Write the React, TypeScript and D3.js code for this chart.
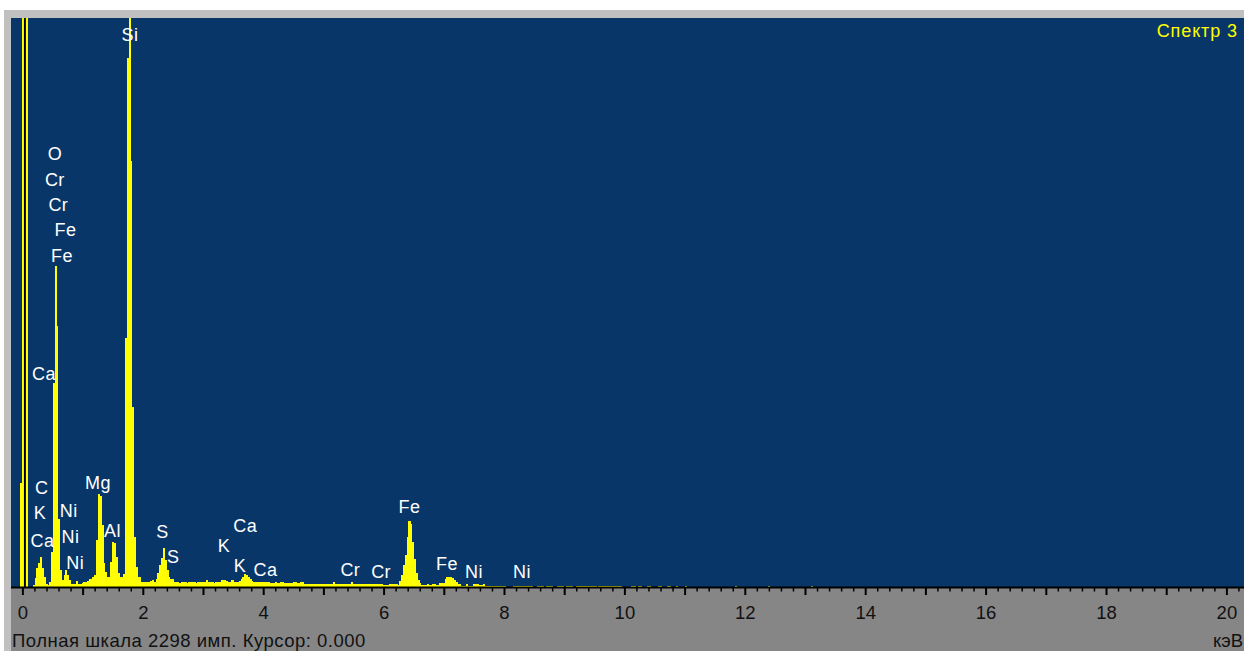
import React, { useRef, useEffect } from 'react';
import * as d3 from 'd3';

// spectrum channels: 0.03 keV wide, first channel starts at -0.045 keV
const CHANNEL_KEV = 0.03;
const FIRST_CHANNEL_KEV = -0.045;
const FULL_SCALE = 2298;
const CURSOR_KEV = 0;
const SPECTRUM_NAME = 'Спектр 3';

const counts: number[] = [
    420, 2700, 0, 2700, 0, 0, 0, 8, 36, 77,
    97, 121, 77, 40, 12, 8, 20, 141, 824, 1297,
    1054, 275, 69, 28, 48, 69, 48, 28, 12, 12,
    12, 24, 12, 12, 16, 20, 20, 24, 32, 32,
    40, 48, 190, 376, 368, 250, 97, 61, 40, 40,
    101, 182, 178, 121, 57, 40, 40, 53, 1006, 2137,
    2700, 1721, 727, 202, 81, 40, 40, 20, 20, 20,
    20, 20, 24, 28, 20, 32, 57, 89, 117, 158,
    109, 69, 40, 32, 32, 20, 20, 20, 16, 20,
    20, 20, 16, 20, 20, 20, 20, 16, 20, 20,
    20, 20, 20, 28, 20, 20, 20, 16, 20, 20,
    20, 28, 28, 28, 24, 20, 20, 28, 20, 20,
    20, 24, 32, 40, 53, 48, 40, 32, 24, 20,
    20, 20, 20, 20, 20, 20, 20, 20, 16, 16,
    16, 20, 16, 16, 20, 20, 16, 16, 16, 16,
    16, 20, 20, 16, 16, 20, 20, 12, 12, 12,
    12, 12, 12, 12, 12, 12, 12, 12, 12, 12,
    12, 12, 12, 20, 12, 12, 12, 12, 12, 12,
    12, 12, 12, 20, 12, 12, 12, 12, 12, 12,
    12, 12, 12, 12, 12, 12, 12, 12, 12, 12,
    12, 8, 8, 8, 12, 12, 12, 12, 12, 8,
    24, 48, 89, 129, 202, 267, 255, 182, 113, 57,
    28, 16, 8, 8, 8, 12, 8, 8, 12, 12,
    8, 8, 16, 16, 16, 32, 40, 40, 40, 36,
    28, 20, 12, 12, 4, 4, 4, 12, 4, 4,
    4, 12, 12, 12, 8, 8, 12, 6, 6, 6,
    6, 6, 4, 6, 6, 6, 6, 6, 4, 0,
    0, 0, 0, 4, 4, 4, 4, 4, 4, 4,
    4, 4, 4,
];

// sparse high-energy tail (channel index -> counts)
const tailChannels: number[] = [
    283, 286, 287, 288, 289, 291, 292, 293, 294, 297, 298, 299, 300,
    302, 303, 304, 305, 308, 309, 310, 311, 312, 313, 314, 315, 316, 317, 318,
    320, 321, 322, 323, 324, 325, 326, 327, 328, 329, 330, 331, 332,
    338, 339, 340, 342, 343, 347, 348, 353, 354, 358, 359, 363, 368, 396, 414, 438,
];
const tailCounts: number[] = tailChannels.map(() => 4);

// peak labels: element, energy (keV), label baseline level (counts)
const peakNames = ['Si', 'O', 'Cr', 'Cr', 'Fe', 'Fe', 'Ca', 'C', 'K', 'Ca', 'Ni', 'Ni', 'Ni', 'Mg', 'Al',
    'S', 'S', 'K', 'Ca', 'K', 'Ca', 'Cr', 'Cr', 'Fe', 'Fe', 'Ni', 'Ni'];
const peakKeV = [1.779, 0.533, 0.530, 0.588, 0.708, 0.650, 0.350, 0.312, 0.284, 0.326, 0.761, 0.791, 0.870, 1.248, 1.488,
    2.319, 2.498, 3.341, 3.694, 3.606, 4.030, 5.439, 5.949, 6.422, 7.045, 7.493, 8.291];
const peakLevel = [2206, 1724, 1621, 1520, 1419, 1314, 836, 376, 273, 163, 281, 179, 71, 395, 203,
    197, 98, 143, 223, 59, 44, 44, 35, 298, 69, 35, 35];

const tickLabels = [0, 2, 4, 6, 8, 10, 12, 14, 16, 18, 20];

const FONT = '"Liberation Sans", Arial, sans-serif';

const App: React.FC = () => {
    const svgRef = useRef<SVGSVGElement | null>(null);

    useEffect(() => {
        if (!svgRef.current) return;
        const svg = d3.select(svgRef.current);
        svg.selectAll('*').remove();

        const width = 1244;
        const height = 651;
        const plot = { left: 11, top: 18, right: 1244, bottom: 587 };

        const x = d3.scaleLinear().domain([0, 20]).range([22.9, 1226.9]);
        const y = d3.scaleLinear().domain([0, FULL_SCALE]).range([plot.bottom, plot.top]);

        // frame
        svg.append('rect').attr('width', width).attr('height', height).attr('fill', '#ffffff');
        svg.append('rect').attr('x', 4).attr('y', 10).attr('width', width - 4).attr('height', height - 10).attr('fill', '#c0c0c0');
        svg.append('rect')
            .attr('x', plot.left).attr('y', plot.top)
            .attr('width', plot.right - plot.left).attr('height', plot.bottom - plot.top)
            .attr('fill', '#083669');
        svg.append('rect')
            .attr('x', plot.left).attr('y', plot.bottom)
            .attr('width', plot.right - plot.left).attr('height', height - plot.bottom)
            .attr('fill', '#868686');

        svg.append('clipPath').attr('id', 'plotClip')
            .append('rect')
            .attr('x', plot.left).attr('y', plot.top)
            .attr('width', plot.right - plot.left).attr('height', plot.bottom - plot.top);

        const channels = counts.map((c, i) => ({ ch: i, c }))
            .concat(tailChannels.map((ch, i) => ({ ch, c: tailCounts[i] })))
            .filter(d => d.c > 0);

        const chStart = (ch: number) => FIRST_CHANNEL_KEV + ch * CHANNEL_KEV;

        const bars = svg.append('g').attr('clip-path', 'url(#plotClip)');
        bars.selectAll('rect')
            .data(channels)
            .enter()
            .append('rect')
            .attr('x', d => x(chStart(d.ch)))
            .attr('width', d => x(chStart(d.ch + 1)) - x(chStart(d.ch)) + 0.3)
            .attr('y', d => y(d.c))
            .attr('height', d => plot.bottom - y(d.c))
            .attr('fill', '#ffff00')
            .attr('shape-rendering', 'crispEdges');

        // cursor marker
        bars.append('line')
            .attr('x1', x(CURSOR_KEV) + 1.8).attr('x2', x(CURSOR_KEV) + 1.8)
            .attr('y1', plot.top).attr('y2', plot.bottom)
            .attr('stroke', '#000000').attr('stroke-width', 1.5);

        // peak labels
        svg.append('g')
            .selectAll('text')
            .data(peakNames)
            .enter()
            .append('text')
            .attr('x', (_, i) => x(peakKeV[i]))
            .attr('y', (_, i) => y(peakLevel[i]))
            .attr('text-anchor', 'middle')
            .attr('fill', '#ffffff')
            .style('font-family', FONT)
            .style('font-size', '18px')
            .style('letter-spacing', '0.4px')
            .text(d => d);

        svg.append('text')
            .attr('x', 1238).attr('y', 37)
            .attr('text-anchor', 'end')
            .attr('fill', '#ffff00')
            .style('font-family', FONT)
            .style('font-size', '18px')
            .style('letter-spacing', '0.9px')
            .text(SPECTRUM_NAME);

        // x axis
        svg.append('rect')
            .attr('x', plot.left).attr('y', plot.bottom - 0.5)
            .attr('width', plot.right - plot.left).attr('height', 2)
            .attr('fill', '#000000');

        const ticks = d3.range(0, 102).map(i => i * 0.2);
        svg.append('g')
            .selectAll('line')
            .data(ticks)
            .enter()
            .append('line')
            .attr('x1', d => x(d)).attr('x2', d => x(d))
            .attr('y1', plot.bottom)
            .attr('y2', (_, i) => plot.bottom + (i % 5 === 0 ? 8 : 4.5))
            .attr('stroke', '#000000')
            .attr('stroke-width', (_, i) => (i % 5 === 0 ? 2 : 1.5));

        svg.append('g')
            .selectAll('text')
            .data(tickLabels)
            .enter()
            .append('text')
            .attr('x', d => x(d))
            .attr('y', 619)
            .attr('text-anchor', 'middle')
            .attr('fill', '#111111')
            .style('font-family', FONT)
            .style('font-size', '18.5px')
            .text(d => String(d));

        svg.append('text')
            .attr('x', 12).attr('y', 647)
            .attr('fill', '#111111')
            .style('font-family', FONT)
            .style('font-size', '18.5px')
            .style('letter-spacing', '0.5px')
            .text(`Полная шкала ${FULL_SCALE} имп. Курсор: ${CURSOR_KEV.toFixed(3)}`);

        svg.append('text')
            .attr('x', 1243).attr('y', 647)
            .attr('text-anchor', 'end')
            .attr('fill', '#111111')
            .style('font-family', FONT)
            .style('font-size', '18.5px')
            .text('кэВ');
    }, []);

    return (
        <svg
            ref={svgRef}
            width={1244}
            height={651}
            style={{ position: 'absolute', left: 0, top: 0, display: 'block' }}
        />
    );
};

export default App;
